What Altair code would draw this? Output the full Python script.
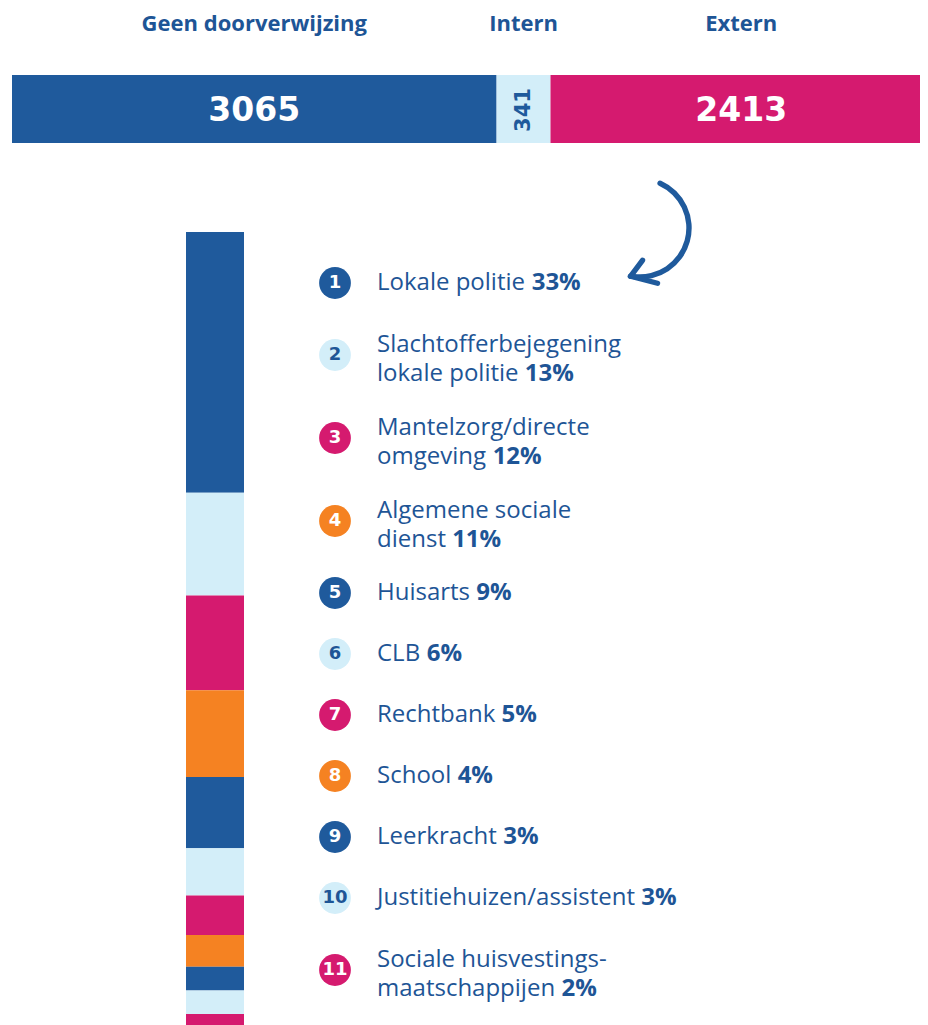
import altair as alt
import pandas as pd
import math

# ---------------- data ----------------
top_categories = ["Geen doorverwijzing", "Intern", "Extern"]
top_values = [3065, 341, 2413]

ext_numbers = list(range(1, 12))
ext_lines = [
    ["Lokale politie"],
    ["Slachtofferbejegening", "lokale politie"],
    ["Mantelzorg/directe", "omgeving"],
    ["Algemene sociale", "dienst"],
    ["Huisarts"],
    ["CLB"],
    ["Rechtbank"],
    ["School"],
    ["Leerkracht"],
    ["Justitiehuizen/assistent"],
    ["Sociale huisvestings-", "maatschappijen"],
]
ext_percent = [33, 13, 12, 11, 9, 6, 5, 4, 3, 3, 2]

# ---------------- style / layout ----------------
BLUE = "#1F5A9C"
LIGHT = "#D3EEF9"
MAGENTA = "#D51A6F"
ORANGE = "#F58222"
TEXT = "#1E5596"
CYCLE = [BLUE, LIGHT, MAGENTA, ORANGE]
OFF = 8  # page margin
W, H = 912, 1017

LABEL_SIZE = 24
# Open Sans regular advance widths (units per 2048 em)
OS_W = {' ': 532, '%': 1653, '-': 659, '/': 752,
        'A': 1296, 'B': 1327, 'C': 1292, 'D': 1493, 'E': 1139, 'F': 1057, 'G': 1491,
        'H': 1511, 'I': 571, 'J': 547, 'K': 1257, 'L': 1098, 'M': 1849, 'N': 1544,
        'O': 1595, 'P': 1233, 'Q': 1595, 'R': 1266, 'S': 1124, 'T': 1133, 'U': 1491,
        'V': 1219, 'W': 1896, 'X': 1182, 'Y': 1147, 'Z': 1169,
        'a': 1139, 'b': 1255, 'c': 975, 'd': 1255, 'e': 1149, 'f': 694, 'g': 1122,
        'h': 1257, 'i': 518, 'j': 518, 'k': 1075, 'l': 518, 'm': 1905, 'n': 1257,
        'o': 1237, 'p': 1255, 'q': 1255, 'r': 836, 's': 977, 't': 723, 'u': 1257,
        'v': 1026, 'w': 1593, 'x': 1073, 'y': 1028, 'z': 977}


def text_width(s, size):
    return sum(OS_W.get(c, 1150) for c in s) / 2048 * size


# ---------------- top bar ----------------
total = sum(top_values)
starts, ends = [], []
acc = 0
for v in top_values:
    starts.append(acc)
    acc += v
    ends.append(acc)
top_df = pd.DataFrame({
    "cat": top_categories,
    "value": top_values,
    "start": starts,
    "end": ends,
    "mid": [(s + e) / 2 for s, e in zip(starts, ends)],
    "label": [str(v) for v in top_values],
})
xs = alt.Scale(domain=[0, total], range=[12 - OFF, 932 - OFF], nice=False, zero=False)

headers = alt.Chart(top_df).mark_text(
    font="Open Sans", fontWeight="bold", fontSize=22, color=TEXT,
    align="center", baseline="alphabetic"
).encode(x=alt.X("mid:Q", scale=xs, axis=None), y=alt.value(31 - OFF), text="cat:N")

top_bar = alt.Chart(top_df).mark_bar().encode(
    x=alt.X("start:Q", scale=xs, axis=None), x2="end:Q",
    y=alt.value(75 - OFF), y2=alt.value(143 - OFF),
    color=alt.Color("cat:N", scale=alt.Scale(domain=top_categories,
                                             range=[BLUE, LIGHT, MAGENTA]), legend=None),
)

big_nums = alt.Chart(top_df).transform_filter("datum.value >= 1000").mark_text(
    font="DejaVu Sans", fontWeight="bold", fontSize=33, color="white",
    align="center", baseline="alphabetic"
).encode(x=alt.X("mid:Q", scale=xs, axis=None), y=alt.value(121 - OFF), text="label:N")

small_nums = alt.Chart(top_df).transform_filter("datum.value < 1000").mark_text(
    font="DejaVu Sans", fontWeight="bold", fontSize=21, color=BLUE,
    align="center", baseline="middle", angle=270
).encode(x=alt.X("mid:Q", scale=xs, axis=None), y=alt.value(110 - OFF), text="label:N")

# ---------------- vertical bar ----------------
vs, ve = [], []
acc = 0
for p in ext_percent:
    vs.append(acc)
    acc += p
    ve.append(acc)
v_df = pd.DataFrame({
    "num": ext_numbers,
    "pct": ext_percent,
    "start": vs,
    "end": ve,
    "color": [CYCLE[i % 4] for i in range(len(ext_percent))],
})
PX_PER_PCT = 7.9
ys = alt.Scale(domain=[0, acc], range=[232 - OFF, 232 - OFF + acc * PX_PER_PCT],
               nice=False, zero=False)
v_bar = alt.Chart(v_df).mark_bar().encode(
    y=alt.Y("start:Q", scale=ys, axis=None), y2="end:Q",
    x=alt.value(186 - OFF), x2=alt.value(244 - OFF),
    color=alt.Color("color:N", scale=None),
)

# ---------------- legend ----------------
H1, H2 = 61.0, 83.0
LINE_H = 29
cy = []
prev_h = None
for i, lines in enumerate(ext_lines):
    h = H1 if len(lines) == 1 else H2
    if i == 0:
        cy.append(283)
    else:
        cy.append(cy[-1] + (prev_h + h) / 2)
    prev_h = h

CIRCLE_X = 335
LABEL_X = 377
leg_rows, reg_rows, bold_rows = [], [], []
for i, lines in enumerate(ext_lines):
    col = CYCLE[i % 4]
    leg_rows.append({"num": str(ext_numbers[i]), "cy": cy[i] - OFF, "color": col,
                     "ncolor": TEXT if col == LIGHT else "white"})
    if len(lines) == 1:
        line_ys = [cy[i]]
    else:
        line_ys = [cy[i] - 10, cy[i] - 10 + LINE_H]
    for j, (ln, ly) in enumerate(zip(lines, line_ys)):
        last = j == len(lines) - 1
        txt = ln + (" " if last else "")
        reg_rows.append({"t": ln, "y": ly - OFF})
        if last:
            bold_rows.append({"t": f"{ext_percent[i]}%", "y": ly - OFF,
                              "x": LABEL_X - OFF + text_width(txt, LABEL_SIZE)})
leg_df = pd.DataFrame(leg_rows)
reg_df = pd.DataFrame(reg_rows)
bold_df = pd.DataFrame(bold_rows)

circles = alt.Chart(leg_df).mark_circle(opacity=1, size=1010).encode(
    x=alt.value(CIRCLE_X - OFF), y=alt.Y("cy:Q", scale=None, axis=None),
    color=alt.Color("color:N", scale=None),
)
circle_nums = alt.Chart(leg_df).mark_text(
    font="DejaVu Sans", fontWeight="bold", fontSize=18, align="center", baseline="middle"
).encode(
    x=alt.value(CIRCLE_X - OFF), y=alt.Y("cy:Q", scale=None, axis=None),
    text="num:N", color=alt.Color("ncolor:N", scale=None),
)
reg_text = alt.Chart(reg_df).mark_text(
    font="Open Sans", fontSize=LABEL_SIZE, color=TEXT, align="left", baseline="middle"
).encode(x=alt.value(LABEL_X - OFF), y=alt.Y("y:Q", scale=None, axis=None), text="t:N")
bold_text = alt.Chart(bold_df).mark_text(
    font="Open Sans", fontWeight="bold", fontSize=LABEL_SIZE, color=TEXT,
    align="left", baseline="middle"
).encode(x=alt.X("x:Q", scale=None, axis=None), y=alt.Y("y:Q", scale=None, axis=None),
         text="t:N")

# ---------------- arrow (decoration) ----------------
one = pd.DataFrame({"k": [0]})
ARC_CX, ARC_CY, ARC_R = 640, 228, 49
t0, t1 = math.radians(21), math.radians(190)
arc = alt.Chart(one).mark_arc(
    theta=t0, theta2=t1, radius=ARC_R + 2.7, radius2=ARC_R - 2.7, cornerRadius=2.7,
    color=BLUE
).encode(x=alt.value(ARC_CX - OFF), y=alt.value(ARC_CY - OFF))
tip_x = ARC_CX + ARC_R * math.sin(t1) - 1
tip_y = ARC_CY - ARC_R * math.cos(t1)
head1 = alt.Chart(one).mark_rule(color=BLUE, strokeWidth=5.4, strokeCap="round").encode(
    x=alt.value(tip_x - OFF), y=alt.value(tip_y - OFF),
    x2=alt.value(tip_x + 12 - OFF), y2=alt.value(tip_y - 16 - OFF))
head2 = alt.Chart(one).mark_rule(color=BLUE, strokeWidth=5.4, strokeCap="round").encode(
    x=alt.value(tip_x - OFF), y=alt.value(tip_y - OFF),
    x2=alt.value(tip_x + 27 - OFF), y2=alt.value(tip_y + 7 - OFF))

chart = alt.layer(
    headers, top_bar, big_nums, small_nums, v_bar,
    circles, circle_nums, reg_text, bold_text, arc, head1, head2
).resolve_scale(x="independent", y="independent", color="independent").properties(
    width=W, height=H, padding=0,
    autosize=alt.AutoSizeParams(type="fit", contains="padding"),
).configure_view(stroke=None)

chart.save("out.html", embed_options={"renderer": "svg", "actions": False})
